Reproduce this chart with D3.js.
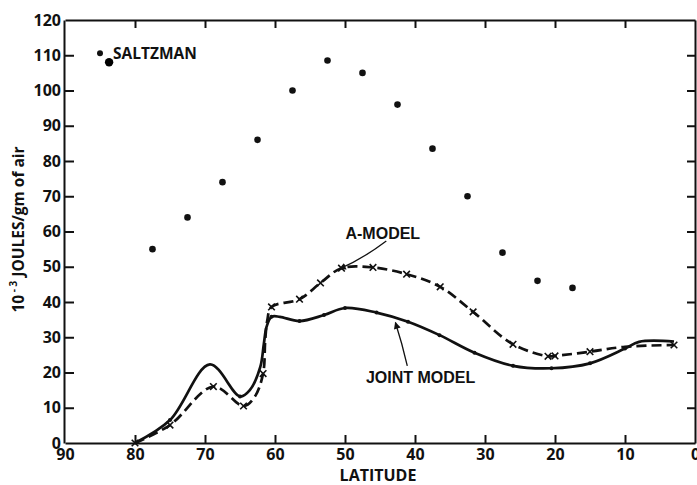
<!DOCTYPE html>
<html>
<head>
<meta charset="utf-8">
<script src="https://cdn.jsdelivr.net/npm/d3@7"></script>
<style>
  html, body { margin: 0; padding: 0; background: #fff; }
  svg { display: block; }
</style>
</head>
<body>
<svg id="chart" width="697" height="485"></svg>
<script>
// Latitude ticks (degrees) and energy ticks (10^-3 J per gram of air)
const latTicks = [90, 80, 70, 60, 50, 40, 30, 20, 10, 0];
const energyTicks = [0, 10, 20, 30, 40, 50, 60, 70, 80, 90, 100, 110, 120];

// Saltzman observations
const saltzmanLat = [77.5, 72.5, 67.5, 62.5, 57.5, 52.5, 47.5, 42.5, 37.5, 32.5, 27.5, 22.5, 17.5];
const saltzmanVal = [55, 64, 74, 86, 100, 108.5, 105, 96, 83.5, 70, 54, 46, 44];

// Joint model curve
const jointLat = [80, 75, 69.3, 65, 63.6, 62.1, 61.6, 61.2, 60.5, 59.3, 56.5, 53, 50, 45.5, 41, 36.5, 31.5, 26, 20.5, 15, 10, 8, 3];
const jointVal = [0, 6.5, 22.3, 13.2, 15, 21.6, 28, 33, 35.8, 35.8, 34.6, 36.3, 38.3, 37, 34.4, 30.6, 25.6, 21.9, 21.2, 22.6, 26.8, 28.7, 28.8];
// Joint model grid points marked on the line
const jointMarkLat = [75, 65, 60.5, 56.5, 53, 50, 45.5, 41, 36.5, 31.5, 26, 20.5, 15, 10];

// A-model curve
const aLat = [80, 75, 68.8, 64.5, 62.9, 61.7, 61.4, 61.1, 60.5, 56.5, 53.5, 50.5, 46, 41.2, 36.4, 31.7, 26, 21, 20, 15, 10, 3];
const aVal = [0, 5.1, 16, 10.5, 13.1, 19.7, 29, 34.8, 38.6, 40.8, 45.4, 49.6, 49.8, 47.9, 44.3, 37.2, 28, 24.6, 24.7, 25.9, 27.3, 27.8];
// A-model grid points marked with crosses
const aMarkLat = [80, 75, 68.8, 64.5, 61.7, 60.5, 56.5, 53.5, 50.5, 46, 41.2, 36.4, 31.7, 26, 21, 20, 15, 3];

const svg = d3.select("#chart");
const W = 697, H = 485;
const margin = { left: 64, right: 2, top: 20, bottom: 42 };

const x = d3.scaleLinear().domain([90, 0]).range([margin.left + 1, W - margin.right]);
const y = d3.scaleLinear().domain([0, 120]).range([H - margin.bottom, margin.top]);

const tickFont = "'Open Sans', 'DejaVu Sans', sans-serif";
const labelFont = "'Liberation Sans Narrow', 'Arial Narrow', 'Liberation Sans', sans-serif";

// Frame with inward ticks on all four sides
const axisStyle = g => {
  g.select(".domain").attr("stroke", "#111").attr("stroke-width", 2);
  g.selectAll(".tick line").attr("stroke", "#111").attr("stroke-width", 2);
  g.selectAll("text").attr("fill", "#111")
    .style("font-family", tickFont).style("font-weight", 700).style("font-size", "16px");
};

svg.append("g")
  .attr("transform", `translate(0,${y(0)})`)
  .call(d3.axisBottom(x).tickValues(latTicks).tickSizeInner(-8).tickSizeOuter(0).tickPadding(6).tickFormat(d3.format("d")))
  .call(axisStyle)
  .call(g => g.selectAll(".tick").filter(d => d === 90 || d === 0).select("line").remove());

svg.append("g")
  .attr("transform", `translate(0,${y(120)})`)
  .call(d3.axisTop(x).tickValues(latTicks).tickSizeInner(-8).tickSizeOuter(0).tickFormat(""))
  .call(axisStyle)
  .call(g => g.selectAll(".tick").filter(d => d === 90 || d === 0).select("line").remove());

svg.append("g")
  .attr("transform", `translate(${x(90) - 1},0)`)
  .call(d3.axisLeft(y).tickValues(energyTicks).tickSizeInner(-10).tickSizeOuter(0).tickPadding(3).tickFormat(d3.format("d")))
  .call(axisStyle)
  .call(g => g.selectAll(".tick").filter(d => d === 0 || d === 120).select("line").remove());

svg.append("g")
  .attr("transform", `translate(${x(0)},0)`)
  .call(d3.axisRight(y).tickValues(energyTicks).tickSizeInner(-8).tickSizeOuter(0).tickFormat(""))
  .call(axisStyle)
  .call(g => g.selectAll(".tick").filter(d => d === 0 || d === 120).select("line").remove());

// Axis titles
svg.append("text")
  .attr("x", (x(90) + x(0)) / 2 - 2)
  .attr("y", H - 4)
  .attr("text-anchor", "middle")
  .style("font-family", tickFont).style("font-weight", 700).style("font-size", "16px")
  .attr("fill", "#111")
  .text("LATITUDE");

const yTitle = svg.append("text")
  .attr("transform", `translate(24,${y(60) - 2}) rotate(-90)`)
  .attr("text-anchor", "middle")
  .style("font-family", tickFont).style("font-weight", 700).style("font-size", "15.5px")
  .attr("fill", "#111");
yTitle.append("tspan").text("10");
yTitle.append("tspan").attr("dy", -7).style("font-size", "10px").text(" - 3");
yTitle.append("tspan").attr("dy", 7).text(" JOULES/gm of air");

// Curves
const line = d3.line()
  .x(d => x(d[0]))
  .y(d => y(d[1]))
  .curve(d3.curveCatmullRom.alpha(0.5));

const jointPts = jointLat.map((d, i) => [d, jointVal[i]]);
const aPts = aLat.map((d, i) => [d, aVal[i]]);

svg.append("path")
  .datum(jointPts)
  .attr("d", line)
  .attr("fill", "none")
  .attr("stroke", "#111")
  .attr("stroke-width", 2.7)
  .attr("stroke-linejoin", "round");

svg.append("path")
  .datum(aPts)
  .attr("d", line)
  .attr("fill", "none")
  .attr("stroke", "#111")
  .attr("stroke-width", 2.7)
  .attr("stroke-dasharray", "10,5");

// Small dots on the joint model line
svg.append("g").selectAll("circle")
  .data(jointMarkLat)
  .join("circle")
  .attr("cx", d => x(d))
  .attr("cy", d => y(jointVal[jointLat.indexOf(d)]))
  .attr("r", 2)
  .attr("fill", "#111");

// Crosses on the A-model line
const cross = d3.symbol().type(d3.symbolX).size(30);
svg.append("g").selectAll("path")
  .data(aMarkLat)
  .join("path")
  .attr("transform", d => `translate(${x(d)},${y(aVal[aLat.indexOf(d)])})`)
  .attr("d", cross)
  .attr("fill", "none")
  .attr("stroke", "#111")
  .attr("stroke-width", 1.6);

// Saltzman dots
svg.append("g").selectAll("circle")
  .data(saltzmanLat)
  .join("circle")
  .attr("cx", d => x(d))
  .attr("cy", (d, i) => y(saltzmanVal[i]))
  .attr("r", 3.3)
  .attr("fill", "#111");

// Legend for the Saltzman points
const legendLat = 85, legendVal = 110.6;
svg.append("circle")
  .attr("cx", x(legendLat)).attr("cy", y(legendVal)).attr("r", 3).attr("fill", "#111");
svg.append("circle")
  .attr("cx", x(83.7)).attr("cy", y(108)).attr("r", 4.2).attr("fill", "#000");
svg.append("text")
  .attr("x", x(legendLat) + 13)
  .attr("y", y(legendVal) + 5.5)
  .style("font-family", tickFont).style("font-weight", 700).style("font-size", "15.5px")
  .attr("fill", "#111")
  .text("SALTZMAN");

// Curve annotations with pointer arrows
const annotations = [
  { text: "A-MODEL", lat: 44.6, val: 59.6, from: [44.1, 57.3], to: [50.8, 49.4], bend: [47.5, 52.2] },
  { text: "JOINT MODEL", lat: 39.2, val: 18.6, from: [41.1, 21.9], to: [42.8, 34.2], bend: [41.8, 28] }
];

svg.append("defs").append("marker")
  .attr("id", "head")
  .attr("viewBox", "0 0 10 10")
  .attr("refX", 9).attr("refY", 5)
  .attr("markerWidth", 9).attr("markerHeight", 7)
  .attr("markerUnits", "userSpaceOnUse")
  .attr("orient", "auto")
  .append("path")
  .attr("d", "M0,0 L10,5 L0,10 Z")
  .attr("fill", "#111");

annotations.forEach(a => {
  svg.append("text")
    .attr("x", x(a.lat))
    .attr("y", y(a.val) + 6)
    .attr("text-anchor", "middle")
    .style("font-family", labelFont).style("font-weight", 700).style("font-size", "16px")
    .attr("fill", "#111")
    .text(a.text);
  const p = d3.path();
  p.moveTo(x(a.from[0]), y(a.from[1]));
  p.quadraticCurveTo(x(a.bend[0]), y(a.bend[1]), x(a.to[0]), y(a.to[1]));
  svg.append("path")
    .attr("d", p.toString())
    .attr("fill", "none")
    .attr("stroke", "#111")
    .attr("stroke-width", 1.3)
    .attr("marker-end", "url(#head)");
});
</script>
</body>
</html>
